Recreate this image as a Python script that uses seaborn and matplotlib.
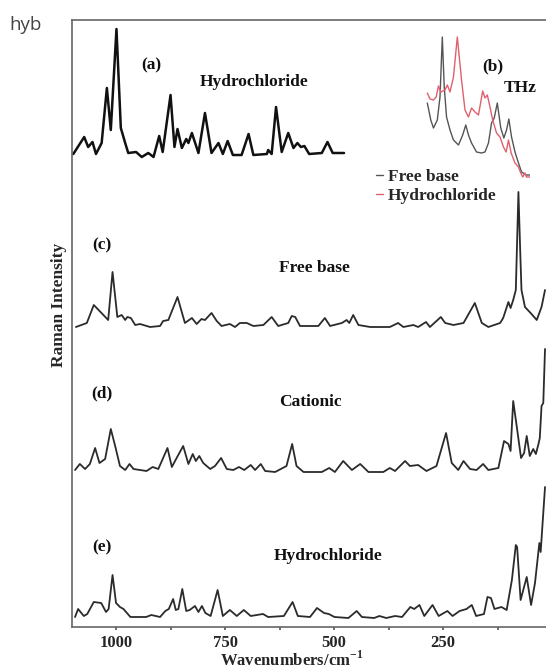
import numpy as np
import matplotlib
matplotlib.use('Agg')
import matplotlib.pyplot as plt
from matplotlib.ticker import MultipleLocator
import seaborn as sns

# (a) hydrochloride, upper panel
wa = [1098, 1073, 1064, 1054, 1046, 1033, 1021, 1012, 999, 989, 979, 972, 954, 941, 926, 914, 901, 893, 875, 866,
      859, 849, 839, 834, 826, 811, 796, 781, 765, 755, 744, 732, 712, 696, 685, 654, 651, 643, 633, 620,
      605, 593, 584, 576, 568, 557, 528, 515, 503, 477]
ia = [3, 20, 10, 15, 3, 14, 69, 27, 128, 29, 14, 4, 5, 0, 4, 0, 21, 5, 62, 10,
      28, 9, 18, 14, 24, 4, 44, 4, 14, 3, 16, 2, 2, 23, 2, 3, 7, 3, 50, 5,
      24, 9, 14, 10, 11, 3, 4, 15, 4, 4]

# (c) free base
wc = [1092, 1067, 1051, 1018, 1008, 997, 987, 979, 974, 966, 956, 945, 922, 899, 892, 880, 859, 842, 826, 815,
      804, 796, 781, 769, 758, 739, 727, 716, 700, 685, 662, 643, 628, 605, 597, 589, 578, 536, 521, 509,
      482, 471, 465, 456, 444, 417, 372, 353, 341, 318, 307, 289, 280, 255, 245, 226, 203, 177, 161, 146,
      119, 112, 100, 95, 89, 83, 77, 73, 70, 62, 47, 35, 24, 16]
ic = [0, 4, 22, 7, 55, 10, 12, 7, 10, 9, 2, 3, 0, 1, 6, 7, 30, 4, 9, 3,
      8, 7, 14, 6, 1, 3, 0, 4, 4, 1, 2, 10, 1, 4, 11, 10, 1, 1, 9, 1,
      4, 7, 4, 12, 2, 0, 0, 4, 0, 2, 0, 5, 0, 10, 4, 2, 4, 24, 4, 0,
      4, 9, 25, 19, 27, 37, 135, 77, 37, 20, 13, 7, 20, 37]

# (d) cationic
wd = [1094, 1083, 1071, 1060, 1048, 1038, 1025, 1012, 1002, 991, 979, 969, 960, 930, 916, 903, 882, 872, 861, 846,
      834, 824, 817, 809, 800, 784, 773, 759, 746, 731, 718, 706, 691, 681, 668, 658, 635, 609, 596, 586,
      570, 528, 511, 498, 479, 459, 440, 421, 387, 372, 360, 337, 326, 307, 288, 265, 243, 230, 215, 203,
      188, 173, 158, 146, 123, 110, 100, 95, 89, 81, 71, 64, 58, 51, 43, 37, 31, 28, 24, 20, 16]
idc = [2, 8, 3, 8, 24, 9, 13, 43, 26, 6, 2, 8, 3, 1, 5, 3, 24, 5, 14, 26,
       8, 18, 11, 16, 9, 3, 6, 14, 3, 2, 5, 2, 7, 2, 8, 1, 0, 6, 28, 6,
       0, 0, 4, 0, 11, 2, 8, 0, 0, 4, 1, 11, 6, 7, 1, 6, 39, 9, 2, 11,
       3, 2, 8, 2, 4, 31, 28, 21, 71, 46, 14, 19, 36, 16, 23, 18, 28, 34, 66, 69, 123]

# (e) hydrochloride
we = [1094, 1087, 1074, 1066, 1051, 1034, 1023, 1017, 1008, 1000, 991, 983, 967, 931, 919, 899, 887, 879, 869, 863,
      857, 848, 839, 831, 819, 811, 803, 795, 783, 767, 755, 739, 723, 707, 691, 663, 651, 615, 595, 583,
      555, 539, 523, 512, 499, 467, 448, 436, 408, 396, 380, 360, 344, 325, 316, 304, 293, 274, 260, 240,
      228, 212, 196, 184, 174, 156, 148, 140, 132, 116, 104, 92, 83, 80, 72, 58, 48, 39, 29, 26, 16]
ie = [0, 8, 1, 3, 15, 14, 5, 8, 42, 14, 10, 8, 0, 0, 2, 0, 6, 8, 18, 7,
      8, 28, 6, 7, 11, 5, 11, 4, 1, 27, 1, 7, 1, 7, 1, 3, 0, 1, 15, 1,
      0, 9, 4, 3, 0, -1, 6, 0, -1, 1, -1, 1, 0, 10, 8, 12, 1, 12, 1, 6,
      1, 6, 8, 12, 1, 3, 20, 19, 8, 10, 7, 37, 72, 70, 17, 40, 12, 34, 74, 65, 130]

offsets = {'a': 470, 'c': 300, 'd': 155, 'e': 10}

# (b) THz inset
fb = [0.26, 0.35, 0.42, 0.52, 0.59, 0.65, 0.70, 0.76, 0.85, 0.94, 1.07, 1.18, 1.26, 1.33, 1.41, 1.54,
      1.67, 1.76, 1.85, 1.93, 2.00, 2.08, 2.17, 2.25, 2.32, 2.38, 2.45, 2.54, 2.63, 2.71, 2.83, 2.93]
ib = [77, 60, 52, 60, 83, 143, 93, 63, 50, 40, 35, 45, 55, 45, 37, 28,
      27, 28, 37, 57, 62, 77, 52, 42, 50, 61, 43, 28, 17, 8, 5, 5]
fh = [0.26, 0.33, 0.42, 0.49, 0.55, 0.61, 0.72, 0.78, 0.85, 0.94, 1.04, 1.15, 1.24, 1.33, 1.41, 1.50, 1.59,
      1.70, 1.76, 1.82, 1.89, 1.96, 2.06, 2.15, 2.24, 2.31, 2.37, 2.44, 2.54, 2.63, 2.69, 2.74, 2.80, 2.84, 2.93]
ih = [87, 81, 80, 83, 94, 88, 90, 95, 88, 103, 143, 100, 70, 63, 72, 68, 65,
      89, 82, 85, 73, 60, 47, 43, 33, 28, 40, 27, 17, 13, 7, 3, 7, 3, 3]

xticks = [1000, 750, 500, 250, 0]

sns.set_theme(style='white')
plt.rcParams['font.family'] = ['Liberation Serif', 'DejaVu Serif']
plt.rcParams['font.weight'] = 'bold'
plt.rcParams['mathtext.fontset'] = 'custom'
plt.rcParams['mathtext.rm'] = 'Liberation Serif:bold'
plt.rcParams['mathtext.bf'] = 'Liberation Serif:bold'

fig = plt.figure(figsize=(5.46, 6.71), dpi=100)
W, H = 546, 671
ax = fig.add_axes([72 / W, (H - 627) / H, 480 / W, 607 / H])

line_kw = dict(sort=False, estimator=None, ax=ax)
sns.lineplot(x=wa, y=np.array(ia) + offsets['a'], color='#111111', lw=1.8, **line_kw)
sns.lineplot(x=wc, y=np.array(ic) + offsets['c'], color='#2b2b2b', lw=1.3, **line_kw)
sns.lineplot(x=wd, y=np.array(idc) + offsets['d'], color='#2b2b2b', lw=1.3, **line_kw)
sns.lineplot(x=we, y=np.array(ie) + offsets['e'], color='#2b2b2b', lw=1.3, **line_kw)

ax.set_xlim(1101, 0)
ax.set_ylim(0, 607)
ax.set_yticks([])
ax.set_xticks(xticks)
ax.set_xticklabels([str(t) for t in xticks])
ax.xaxis.set_minor_locator(MultipleLocator(125))
ax.tick_params(axis='x', which='both', direction='out', length=2.5, width=1.2,
               color='#555555', pad=3, labelsize=12, bottom=True)
for s in ax.spines.values():
    s.set_color('#666666')
    s.set_linewidth(1.2)

ax.set_xlabel('Wavenumbers/cm$^{\\mathbf{-1}}$', fontsize=12, fontweight='bold')
ax.xaxis.set_label_coords(0.458, -0.054)
ax.xaxis.label.set_va('center')
ax.set_ylabel('Raman Intensity', fontsize=12.5, fontweight='bold')
ax.yaxis.set_label_coords(-0.028, 0.53)
ax.yaxis.label.set_va('center')

tk = dict(ha='center', va='center', fontsize=12.5, fontweight='bold', color='#111111')
ax.text(920, 562, '(a)', **tk)
ax.text(683, 545, 'Hydrochloride', **tk)
ax.text(135, 561, '(b)', **tk)
ax.text(74, 539, 'THz', **tk)
ax.text(1032, 382, '(c)', **tk)
ax.text(546, 359, 'Free base', **tk)
ax.text(1032, 234, '(d)', **tk)
ax.text(555, 225, 'Cationic', **tk)
ax.text(1032, 80, '(e)', **tk)
ax.text(514, 71, 'Hydrochloride', **tk)

# THz inset
ax_in = fig.add_axes([425 / W, (H - 180) / H, 105 / W, 150 / H])
sns.lineplot(x=fb, y=ib, color='#555555', lw=1.0, sort=False, estimator=None, ax=ax_in, label='Free base')
sns.lineplot(x=fh, y=ih, color='#e0606e', lw=1.0, sort=False, estimator=None, ax=ax_in, label='Hydrochloride')
ax_in.set_xlim(0.2, 2.93)
ax_in.set_ylim(0, 150)
ax_in.axis('off')
handles, labels = ax_in.get_legend_handles_labels()
ax_in.get_legend().remove()
fig.legend(handles, labels, loc='upper left', bbox_to_anchor=(367 / W, 1 - 160 / H),
           frameon=False, handlelength=0.45, handletextpad=0.25, labelspacing=0.2,
           borderpad=0, prop={'family': 'Liberation Serif', 'weight': 'bold', 'size': 12.5})

fig.text(9 / W, 1 - 25 / H, 'hyb', family='Open Sans', fontweight='normal', fontsize=13.5,
         color='#444444', ha='left', va='center')

plt.savefig('out.png', dpi=100)
